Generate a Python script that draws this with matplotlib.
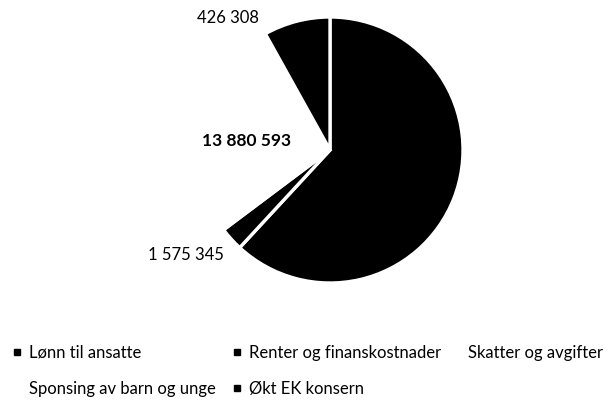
import matplotlib.pyplot as plt
from matplotlib.lines import Line2D

plt.rcParams['font.family'] = ['Lato', 'DejaVu Sans']

# data
categories = ["Lønn til ansatte", "Renter og finanskostnader", "Skatter og avgifter",
              "Sponsing av barn og unge", "Økt EK konsern"]
values = [33900000, 1575345, 13880593, 1000000, 4426308]
value_labels = ["", "1 575 345", "13 880 593", "", "426 308"]
colors = ["black", "black", "white", "white", "black"]

# label placement (data coords, pie radius = 1)
label_pos = [None, (-1.083, -0.79), (-0.624, 0.068), None, (-0.767, 0.992)]
label_bold = [False, False, True, False, False]

W, H = 607, 401
fig = plt.figure(figsize=(W / 100, H / 100), dpi=100)
# pie centre (330,150) px, radius 133 px
ax = fig.add_axes([197 / W, (H - 283) / H, 266 / W, 266 / H])

wedges, _ = ax.pie(values, colors=colors, startangle=90, counterclock=False,
                   radius=1, wedgeprops=dict(edgecolor="white", linewidth=2.4))
ax.set_xlim(-1, 1)
ax.set_ylim(-1, 1)
ax.set_aspect("equal")
ax.axis("off")

for txt, pos, bold in zip(value_labels, label_pos, label_bold):
    if not txt or pos is None:
        continue
    ax.text(pos[0], pos[1], txt, ha="center", va="center",
            fontsize=12.5 if bold else 12,
            fontweight="bold" if bold else "normal", color="black", clip_on=False)

# legend: three columns placed like the original
handles = [Line2D([], [], marker="s", linestyle="", markersize=4.3,
                  markerfacecolor=c, markeredgecolor=c) for c in colors]
columns = [([0, 3], 12.5, 371), ([1, 4], 232, 371), ([2], 451.5, 353)]
for idx, x0, yc in columns:
    fig.legend([handles[i] for i in idx], [categories[i] for i in idx],
               loc="center left", bbox_to_anchor=(x0 / W, 1 - yc / H),
               frameon=False, fontsize=12, handlelength=0.55, handletextpad=0.45,
               borderpad=0, borderaxespad=0, labelspacing=1.22)

fig.savefig("out.png", dpi=100, facecolor="white")
